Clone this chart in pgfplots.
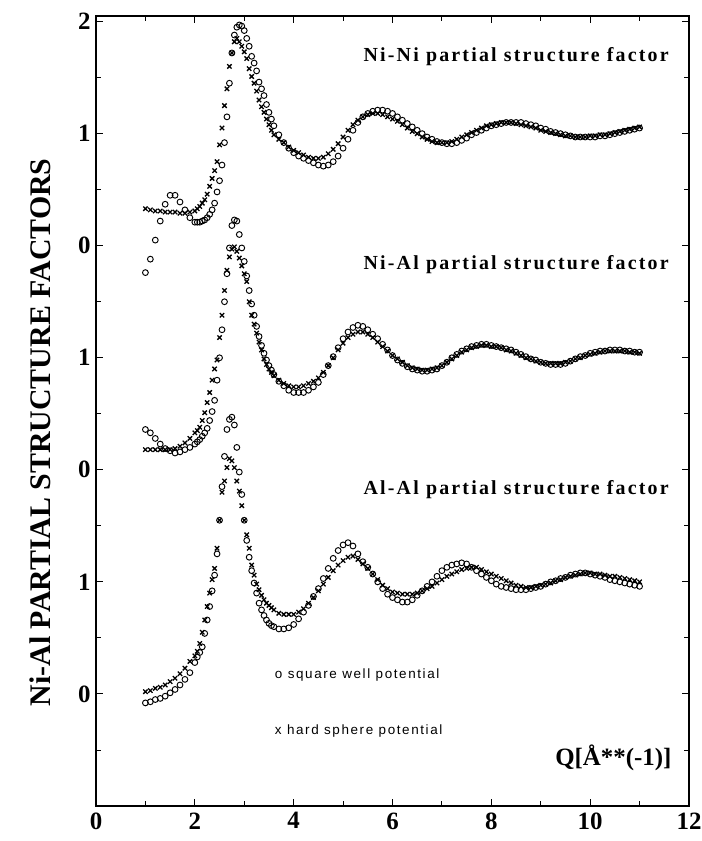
\documentclass[border=0pt]{standalone}
\usepackage{fontspec}
\setmainfont{Liberation Serif}
\newfontfamily\legfont{Liberation Sans}
\usepackage{pgfplots}
\usepackage{pgfplotstable}
\pgfplotsset{compat=1.18}

% columns: Q, square well (o), hard sphere (x); each curve is offset in the plot
\pgfplotstableread{
Q o x
1.0 -0.24 0.33
1.1 -0.12 0.32
1.2 0.05 0.31
1.3 0.22 0.31
1.4 0.37 0.30
1.5 0.45 0.30
1.6 0.45 0.30
1.7 0.39 0.29
1.8 0.32 0.29
1.9 0.25 0.30
2.0 0.21 0.31
2.05 0.21 0.33
2.1 0.21 0.35
2.15 0.22 0.38
2.2 0.23 0.41
2.25 0.25 0.46
2.3 0.28 0.53
2.35 0.32 0.60
2.4 0.38 0.67
2.45 0.48 0.75
2.5 0.58 0.90
2.55 0.72 1.05
2.6 0.92 1.25
2.65 1.15 1.40
2.7 1.45 1.60
2.75 1.72 1.72
2.8 1.88 1.82
2.85 1.95 1.85
2.9 1.97 1.82
2.95 1.96 1.78
3.0 1.92 1.73
3.05 1.85 1.67
3.1 1.78 1.58
3.15 1.69 1.51
3.2 1.63 1.45
3.25 1.56 1.38
3.3 1.46 1.30
3.35 1.40 1.24
3.4 1.34 1.19
3.45 1.26 1.13
3.5 1.19 1.08
3.55 1.13 1.03
3.6 1.07 0.99
3.7 0.99 0.95
3.8 0.92 0.92
3.9 0.87 0.88
4.0 0.83 0.85
4.1 0.80 0.83
4.2 0.78 0.81
4.3 0.76 0.79
4.4 0.74 0.78
4.5 0.72 0.78
4.6 0.71 0.79
4.7 0.72 0.82
4.8 0.75 0.86
4.9 0.80 0.91
5.0 0.87 0.97
5.1 0.95 1.03
5.2 1.03 1.08
5.3 1.10 1.12
5.4 1.15 1.15
5.5 1.18 1.17
5.6 1.20 1.18
5.7 1.21 1.18
5.8 1.21 1.17
5.9 1.20 1.15
6.0 1.18 1.13
6.1 1.15 1.11
6.2 1.12 1.08
6.3 1.09 1.05
6.4 1.06 1.02
6.5 1.03 1.00
6.6 1.00 0.97
6.7 0.97 0.95
6.8 0.95 0.93
6.9 0.93 0.92
7.0 0.92 0.92
7.1 0.91 0.92
7.2 0.91 0.93
7.3 0.92 0.95
7.4 0.94 0.97
7.5 0.96 0.99
7.6 0.99 1.01
7.7 1.01 1.03
7.8 1.03 1.05
7.9 1.05 1.07
8.0 1.07 1.08
8.1 1.08 1.09
8.2 1.09 1.10
8.3 1.10 1.10
8.4 1.10 1.10
8.5 1.10 1.09
8.6 1.10 1.08
8.7 1.09 1.07
8.8 1.08 1.06
8.9 1.07 1.05
9.0 1.05 1.03
9.1 1.04 1.02
9.2 1.02 1.01
9.3 1.01 1.00
9.4 1.00 0.99
9.5 0.99 0.98
9.6 0.98 0.98
9.7 0.97 0.97
9.8 0.97 0.97
9.9 0.97 0.97
10.0 0.97 0.98
10.1 0.97 0.98
10.2 0.98 0.99
10.3 0.98 0.99
10.4 0.99 1.00
10.5 1.00 1.01
10.6 1.01 1.02
10.7 1.02 1.03
10.8 1.03 1.04
10.9 1.04 1.05
11.0 1.05 1.06
}\nini

\pgfplotstableread{
Q o x
1.0 0.36 0.18
1.1 0.33 0.18
1.2 0.28 0.18
1.3 0.23 0.18
1.4 0.19 0.18
1.5 0.17 0.18
1.6 0.15 0.19
1.7 0.16 0.21
1.8 0.18 0.24
1.9 0.20 0.28
2.0 0.23 0.33
2.05 0.25 0.35
2.1 0.27 0.38
2.15 0.30 0.44
2.2 0.33 0.51
2.25 0.37 0.60
2.3 0.44 0.69
2.35 0.52 0.80
2.4 0.62 0.90
2.45 0.80 0.98
2.5 1.00 1.18
2.55 1.25 1.38
2.6 1.50 1.60
2.65 1.75 1.78
2.7 1.98 1.90
2.75 2.18 1.97
2.8 2.23 1.99
2.85 2.22 1.95
2.9 2.10 1.89
2.95 1.98 1.82
3.0 1.86 1.75
3.05 1.73 1.68
3.1 1.60 1.50
3.15 1.48 1.38
3.2 1.38 1.30
3.25 1.28 1.22
3.3 1.19 1.14
3.35 1.11 1.07
3.4 1.04 0.99
3.45 0.98 0.94
3.5 0.93 0.90
3.55 0.89 0.87
3.6 0.85 0.84
3.7 0.79 0.80
3.8 0.75 0.77
3.9 0.71 0.75
4.0 0.69 0.74
4.1 0.69 0.74
4.2 0.69 0.75
4.3 0.71 0.77
4.4 0.74 0.79
4.5 0.78 0.82
4.6 0.85 0.87
4.7 0.93 0.93
4.8 1.01 1.00
4.9 1.09 1.07
5.0 1.17 1.13
5.1 1.23 1.18
5.2 1.27 1.21
5.3 1.29 1.23
5.4 1.28 1.23
5.5 1.25 1.21
5.6 1.21 1.18
5.7 1.17 1.14
5.8 1.12 1.10
5.9 1.07 1.06
6.0 1.02 1.02
6.1 0.98 0.99
6.2 0.95 0.96
6.3 0.92 0.93
6.4 0.90 0.91
6.5 0.89 0.90
6.6 0.88 0.89
6.7 0.88 0.89
6.8 0.89 0.90
6.9 0.90 0.91
7.0 0.93 0.93
7.1 0.96 0.96
7.2 1.00 0.99
7.3 1.03 1.02
7.4 1.06 1.05
7.5 1.08 1.07
7.6 1.10 1.09
7.7 1.11 1.10
7.8 1.12 1.11
7.9 1.12 1.11
8.0 1.11 1.10
8.1 1.10 1.10
8.2 1.09 1.09
8.3 1.08 1.07
8.4 1.07 1.06
8.5 1.05 1.04
8.6 1.03 1.02
8.7 1.01 1.00
8.8 0.99 0.99
8.9 0.98 0.97
9.0 0.96 0.96
9.1 0.95 0.95
9.2 0.94 0.95
9.3 0.94 0.95
9.4 0.94 0.95
9.5 0.95 0.96
9.6 0.97 0.97
9.7 0.99 0.99
9.8 1.01 1.00
9.9 1.02 1.02
10.0 1.04 1.03
10.1 1.05 1.04
10.2 1.06 1.05
10.3 1.06 1.06
10.4 1.07 1.06
10.5 1.07 1.06
10.6 1.07 1.06
10.7 1.06 1.06
10.8 1.06 1.05
10.9 1.05 1.05
11.0 1.05 1.04
}\nial

\pgfplotstableread{
Q o x
1.0 -0.08 0.02
1.1 -0.07 0.03
1.2 -0.05 0.05
1.3 -0.04 0.06
1.4 -0.02 0.08
1.5 0.01 0.11
1.6 0.04 0.14
1.7 0.08 0.18
1.8 0.13 0.23
1.9 0.19 0.29
2.0 0.28 0.34
2.05 0.33 0.38
2.1 0.37 0.45
2.15 0.42 0.55
2.2 0.54 0.66
2.25 0.66 0.78
2.3 0.78 0.90
2.35 0.92 1.02
2.4 1.06 1.12
2.45 1.25 1.30
2.5 1.55 1.55
2.55 1.85 1.80
2.6 2.12 1.90
2.65 2.36 2.02
2.7 2.45 2.10
2.75 2.47 2.08
2.8 2.40 2.02
2.85 2.20 1.90
2.9 1.98 1.81
2.95 1.78 1.68
3.0 1.55 1.55
3.05 1.37 1.42
3.1 1.22 1.30
3.15 1.10 1.15
3.2 0.99 1.06
3.25 0.90 0.98
3.3 0.81 0.93
3.35 0.75 0.88
3.4 0.70 0.84
3.45 0.66 0.81
3.5 0.63 0.79
3.55 0.61 0.77
3.6 0.60 0.75
3.7 0.58 0.72
3.8 0.58 0.71
3.9 0.59 0.71
4.0 0.62 0.71
4.1 0.67 0.73
4.2 0.73 0.76
4.3 0.79 0.81
4.4 0.87 0.86
4.5 0.94 0.92
4.6 1.03 0.98
4.7 1.12 1.04
4.8 1.21 1.10
4.9 1.28 1.15
5.0 1.33 1.19
5.1 1.35 1.22
5.2 1.32 1.23
5.3 1.25 1.20
5.4 1.18 1.16
5.5 1.13 1.12
5.6 1.07 1.07
5.7 1.00 1.02
5.8 0.94 0.97
5.9 0.89 0.94
6.0 0.86 0.91
6.1 0.84 0.90
6.2 0.82 0.89
6.3 0.82 0.89
6.4 0.84 0.89
6.5 0.88 0.90
6.6 0.92 0.92
6.7 0.96 0.94
6.8 1.00 0.96
6.9 1.05 0.99
7.0 1.10 1.02
7.1 1.13 1.05
7.2 1.15 1.07
7.3 1.16 1.09
7.4 1.17 1.11
7.5 1.16 1.12
7.6 1.13 1.13
7.7 1.10 1.13
7.8 1.07 1.11
7.9 1.04 1.09
8.0 1.01 1.07
8.1 0.98 1.05
8.2 0.96 1.03
8.3 0.95 1.01
8.4 0.94 0.99
8.5 0.93 0.97
8.6 0.93 0.96
8.7 0.93 0.95
8.8 0.94 0.95
8.9 0.95 0.96
9.0 0.96 0.97
9.1 0.98 0.98
9.2 1.00 0.99
9.3 1.01 1.01
9.4 1.03 1.02
9.5 1.04 1.04
9.6 1.06 1.05
9.7 1.07 1.06
9.8 1.08 1.07
9.9 1.08 1.08
10.0 1.07 1.08
10.1 1.06 1.07
10.2 1.05 1.07
10.3 1.04 1.06
10.4 1.02 1.05
10.5 1.01 1.05
10.6 1.00 1.04
10.7 0.99 1.03
10.8 0.98 1.02
10.9 0.97 1.01
11.0 0.96 1.00
}\alal

\begin{document}
\begin{tikzpicture}
\begin{axis}[
  scale only axis,
  width=593bp, height=790bp,
  xmin=0, xmax=12, ymin=-1, ymax=6.05,
  xtick={0,2,...,12}, minor xtick={1,3,...,11},
  ytick={0,1,...,6}, yticklabels={0,1,0,1,0,1,2},
  minor ytick={-0.5,0.5,...,5.5},
  major tick length=7bp, minor tick length=5bp,
  every tick/.style={black, line width=0.9pt},
  axis line style={line width=1.1pt},
  /pgf/number format/assume math mode=true,
  ticklabel style={font=\fontsize{25}{25}\selectfont\bfseries},
  xticklabel style={yshift=-3bp},
  yticklabel style={xshift=-2bp},
  clip=false,
]
% square well potential (o)
\addplot[only marks, mark=o, mark size=2.9bp, line width=0.95pt]
  table[x=Q, y expr=\thisrow{o}+4] {\nini};
\addplot[only marks, mark=o, mark size=2.9bp, line width=0.95pt]
  table[x=Q, y expr=\thisrow{o}+2] {\nial};
\addplot[only marks, mark=o, mark size=2.9bp, line width=0.95pt]
  table[x=Q, y=o] {\alal};
% hard sphere potential (x)
\addplot[only marks, mark=x, mark size=3.1bp, line width=1.3pt]
  table[x=Q, y expr=\thisrow{x}+4] {\nini};
\addplot[only marks, mark=x, mark size=3.1bp, line width=1.3pt]
  table[x=Q, y expr=\thisrow{x}+2] {\nial};
\addplot[only marks, mark=x, mark size=3.1bp, line width=1.3pt]
  table[x=Q, y=x] {\alal};

\node[anchor=east, font=\fontsize{20}{20}\selectfont\bfseries\addfontfeatures{LetterSpace=11}]
  at (axis cs:11.66,5.69) {Ni-Ni partial structure factor};
\node[anchor=east, font=\fontsize{20}{20}\selectfont\bfseries\addfontfeatures{LetterSpace=11}]
  at (axis cs:11.66,3.83) {Ni-Al partial structure factor};
\node[anchor=east, font=\fontsize{20}{20}\selectfont\bfseries\addfontfeatures{LetterSpace=11}]
  at (axis cs:11.66,1.82) {Al-Al partial structure factor};
\node[anchor=west, font=\legfont\fontsize{13.5}{13.5}\selectfont\addfontfeatures{LetterSpace=12}]
  at (axis cs:3.55,0.17) {o square well potential};
\node[anchor=west, font=\legfont\fontsize{13.5}{13.5}\selectfont\addfontfeatures{LetterSpace=12}]
  at (axis cs:3.55,-0.33) {x hard sphere potential};
\node[font=\fontsize{25}{25}\selectfont\bfseries]
  at (axis cs:10.47,-0.57) {Q[Å**(-1)]};
\node[rotate=90, font=\fontsize{30}{30}\selectfont\bfseries]
  at (axis description cs:-0.094,0.473) {Ni-Al PARTIAL STRUCTURE FACTORS};
\end{axis}
\pgfresetboundingbox
\path ([shift={(-96bp,-35bp)}]current axis.south west)
  rectangle ([shift={(13bp,16bp)}]current axis.north east);
\end{tikzpicture}
\end{document}
